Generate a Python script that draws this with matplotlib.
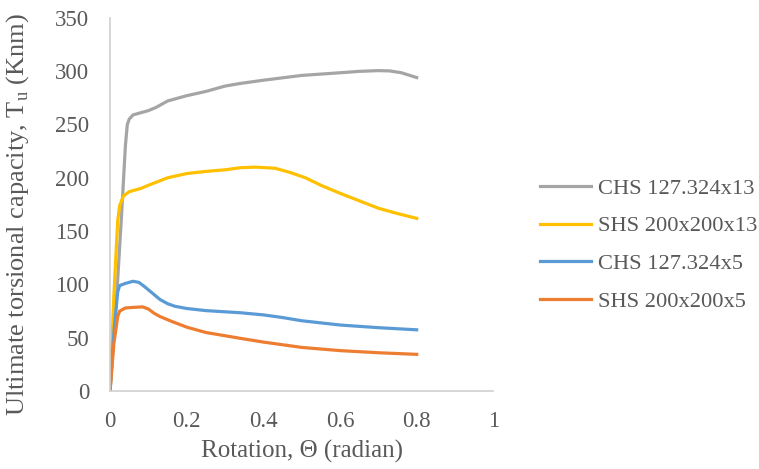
import matplotlib.pyplot as plt

plt.rcParams['font.family'] = ['Liberation Serif', 'DejaVu Serif']
plt.rcParams['mathtext.fontset'] = 'custom'
plt.rcParams['mathtext.rm'] = 'Liberation Serif'

# CHS 127.324x13
x_chs13 = [0, 0.02, 0.03, 0.04, 0.045, 0.05, 0.06, 0.08, 0.1, 0.12, 0.15, 0.2, 0.25, 0.3, 0.34,
           0.4, 0.5, 0.6, 0.65, 0.7, 0.73, 0.76, 0.8]
y_chs13 = [0, 105, 165, 230, 250, 255, 259, 261, 263, 266, 272, 277, 281, 286, 288.5,
           291.5, 296, 298.5, 299.8, 300.5, 300.2, 298.5, 294]

# SHS 200x200x13
x_shs13 = [0, 0.01, 0.02, 0.025, 0.035, 0.05, 0.08, 0.1, 0.15, 0.2, 0.25, 0.3, 0.34, 0.38,
           0.43, 0.47, 0.51, 0.55, 0.6, 0.65, 0.7, 0.75, 0.8]
y_shs13 = [0, 90, 160, 174, 183, 187, 190, 193, 200, 204, 206, 207.5, 209.5, 210,
           209, 205, 200, 193, 185.5, 178.5, 171.5, 166.5, 162]

# CHS 127.324x5
x_chs5 = [0, 0.01, 0.02, 0.025, 0.04, 0.06, 0.075, 0.09, 0.11, 0.13, 0.15, 0.17, 0.2, 0.25,
          0.34, 0.4, 0.45, 0.5, 0.6, 0.7, 0.8]
y_chs5 = [0, 55, 93, 99, 101, 103, 102, 98, 92, 86, 82, 79.5, 77.5, 75.5,
          73.5, 71.5, 69, 66, 62, 59.5, 57.5]

# SHS 200x200x5
x_shs5 = [0, 0.01, 0.02, 0.025, 0.04, 0.06, 0.085, 0.1, 0.115, 0.13, 0.16, 0.2, 0.25, 0.34,
          0.4, 0.5, 0.6, 0.7, 0.8]
y_shs5 = [0, 45, 70, 75, 78, 78.5, 79, 77, 73, 70, 65.5, 60, 55, 49.5,
          46, 41, 38, 36, 34.5]

fig = plt.figure(figsize=(7.59, 4.69), dpi=100)
ax = fig.add_axes([0.145, 0.166, 0.505, 0.796])

lw = 2.3
ax.plot(x_chs13, y_chs13, color='#A5A5A5', lw=lw, label='CHS 127.324x13', solid_joinstyle='round')
ax.plot(x_shs13, y_shs13, color='#FFC000', lw=lw, label='SHS 200x200x13', solid_joinstyle='round')
ax.plot(x_chs5, y_chs5, color='#5B9BD5', lw=lw, label='CHS 127.324x5', solid_joinstyle='round')
ax.plot(x_shs5, y_shs5, color='#ED7D31', lw=lw, label='SHS 200x200x5', solid_joinstyle='round')

ax.set_xlim(0, 1)
ax.set_ylim(0, 350)
ax.set_xticks([0, 0.2, 0.4, 0.6, 0.8, 1])
ax.set_xticklabels(['0', '0.2', '0.4', '0.6', '0.8', '1'])
ax.set_yticks(range(0, 351, 50))

for s in ['top', 'right']:
    ax.spines[s].set_visible(False)
for s in ['left', 'bottom']:
    ax.spines[s].set_color('#D0D0D0')
    ax.spines[s].set_linewidth(1.2)
ax.tick_params(length=0, labelsize=16.5, colors='#595959')
ax.tick_params(axis='y', pad=15)
ax.tick_params(axis='x', pad=14)

ax.set_xlabel('Rotation, Θ (radian)', fontsize=18, color='#595959', labelpad=6)
ax.set_ylabel(r'Ultimate torsional capacity, T$_\mathrm{u}$ (Knm)', fontsize=19, color='#595959')
ax.yaxis.set_label_coords(-0.205, 0.472)

leg = fig.legend(loc='center left', bbox_to_anchor=(0.711, 0.478), frameon=False,
                 fontsize=16.2, handlelength=2.3, labelspacing=0.75, handletextpad=0.3,
                 borderpad=0, borderaxespad=0)
for t in leg.get_texts():
    t.set_color('#595959')

fig.savefig('out.png', dpi=100)
